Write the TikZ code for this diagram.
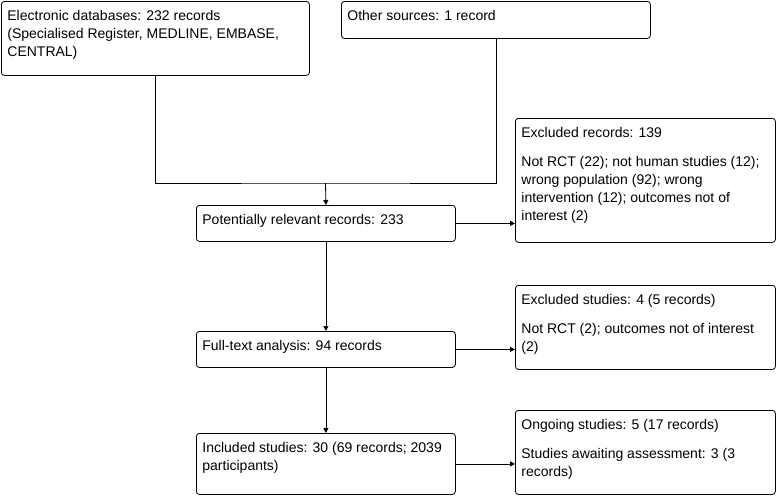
\documentclass[tikz,border=0pt]{standalone}
\usepackage{fontspec}
\setmainfont{Liberation Sans}
\usetikzlibrary{arrows.meta}

\begin{document}
\begin{tikzpicture}[x=1pt, y=-1pt, >={Triangle[length=5pt,width=5pt]}, line width=0.8pt,
  font=\fontsize{14}{18}\selectfont,
  rec/.style={draw, rounded corners=3pt, anchor=north west, inner xsep=6pt, inner ysep=9pt}]
\useasboundingbox (0,0) rectangle (778,496);
% sources
\node[rec] (e) at (1,1) {\parbox[t][56pt][t]{296pt}{\raggedright Electronic databases: 232 records\\(Specialised Register, MEDLINE, EMBASE,\\CENTRAL)}};
\node[rec] (o) at (341,1) {\parbox[t][19pt][t]{297pt}{\raggedright Other sources: 1 record}};
% main column
\node[rec] (p) at (196,205) {\parbox[t][18pt][t]{247pt}{\raggedright Potentially relevant records: 233}};
\node[rec] (f) at (196,331) {\parbox[t][18pt][t]{247pt}{\raggedright Full-text analysis: 94 records}};
\node[rec] (i) at (196,433) {\parbox[t][43pt][t]{247pt}{\raggedright Included studies: 30 (69 records; 2039\\participants)}};
% side boxes
\node[rec] (x1) at (515,118) {\parbox[t][106pt][t]{248pt}{\raggedright Excluded records: 139\\[11pt]Not RCT (22); not human studies (12);\\wrong population (92); wrong\\intervention (12); outcomes not of\\interest (2)}};
\node[rec] (x2) at (515,285) {\parbox[t][66pt][t]{248pt}{\raggedright Excluded studies: 4 (5 records)\\[11pt]Not RCT (2); outcomes not of interest\\(2)}};
\node[rec] (g) at (515,410) {\parbox[t][66pt][t]{248pt}{\raggedright Ongoing studies: 5 (17 records)\\[11pt]Studies awaiting assessment: 3 (3\\records)}};
% connectors
\coordinate (j) at (325.5,183);
\draw (e.south) |- (j) -| (o.south);
\draw[->] (j) -- (p.north);
\draw[->] (p.south) -- (f.north);
\draw[->] (f.south) -- (i.north);
\draw[->] (p.east) -- (p.east -| x1.west);
\draw[->] (f.east) -- (f.east -| x2.west);
\draw[->] (i.east) -- (i.east -| g.west);
\end{tikzpicture}
\end{document}
